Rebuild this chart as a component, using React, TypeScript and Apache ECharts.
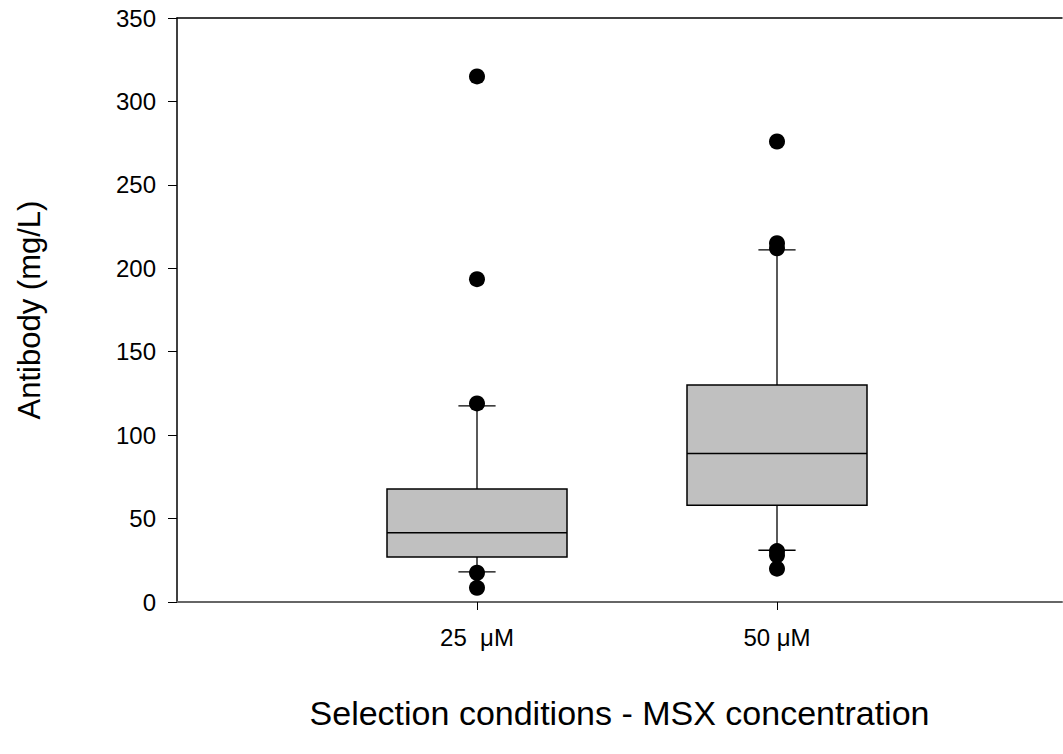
import React, { useEffect, useRef } from "react";
import * as echarts from "echarts";

const categories = ["25  μM", "50 μM"];
const categoryPos = [1, 2];
const whiskerLow = [18, 31];
const q1 = [27, 58];
const median = [41.5, 89];
const q3 = [67.7, 130];
const whiskerHigh = [117.5, 211];
const outliers25 = [315, 193.5, 119, 17.5, 8.5];
const outliers50 = [276, 215, 212, 30.5, 28, 20];
const yTicks = [0, 50, 100, 150, 200, 250, 300, 350];

export default function App() {
  const ref = useRef<HTMLDivElement>(null);
  useEffect(() => {
    if (!ref.current) return;
    const chart = echarts.init(ref.current, null, { renderer: "svg" });
    const boxData = categoryPos.map((x, i) => [x, whiskerLow[i], q1[i], median[i], q3[i], whiskerHigh[i]]);
    const outlierData = [
      ...outliers25.map((v) => [categoryPos[0], v]),
      ...outliers50.map((v) => [categoryPos[1], v]),
    ];
    const font = "Liberation Sans, Arial, sans-serif";
    chart.setOption({
      animation: false,
      grid: { left: 177, top: 18, right: 1, bottom: 152, containLabel: false },
      xAxis: [
        {
          type: "value",
          min: 0,
          max: 2.95,
          interval: 1,
          position: "bottom",
          name: "Selection conditions - MSX concentration",
          nameLocation: "middle",
          nameGap: 94,
          nameTextStyle: { fontSize: 34, color: "#000", fontFamily: font },
          axisLine: { lineStyle: { color: "#666", width: 2 } },
          axisTick: { show: true, length: 8, lineStyle: { color: "#000" }, customValues: categoryPos },
          axisLabel: {
            customValues: categoryPos,
            formatter: (v: number) => {
              const i = categoryPos.indexOf(Math.round(v));
              return i >= 0 ? categories[i] : "";
            },
            fontSize: 24,
            color: "#000",
            fontFamily: font,
            margin: 23,
          },
          splitLine: { show: false },
        },
        {
          type: "value",
          min: 0,
          max: 2.95,
          position: "top",
          axisLine: { show: true, lineStyle: { color: "#000", width: 1.5 } },
          axisTick: { show: false },
          axisLabel: { show: false },
          splitLine: { show: false },
        },
      ],
      yAxis: {
        type: "value",
        min: 0,
        max: 350,
        interval: 50,
        name: "Antibody (mg/L)",
        nameLocation: "middle",
        nameGap: 132,
        nameRotate: 90,
        nameTextStyle: { fontSize: 31, color: "#000", fontFamily: font },
        axisLine: { show: true, lineStyle: { color: "#000", width: 1.5 } },
        axisTick: { show: true, length: 9, lineStyle: { color: "#000" } },
        axisLabel: {
          fontSize: 24,
          color: "#000",
          fontFamily: font,
          margin: 21,
          formatter: (v: number) => (yTicks.includes(v) ? String(v) : ""),
        },
        splitLine: { show: false },
      },
      series: [
        {
          type: "custom",
          xAxisIndex: 0,
          data: boxData,
          encode: { x: 0, y: [1, 2, 3, 4, 5] },
          renderItem: (params: any, api: any) => {
            const x = api.value(0);
            const lo = api.coord([x, api.value(1)]);
            const b1 = api.coord([x, api.value(2)]);
            const md = api.coord([x, api.value(3)]);
            const b3 = api.coord([x, api.value(4)]);
            const hi = api.coord([x, api.value(5)]);
            const unit = api.size([1, 0])[0];
            const halfBox = unit * 0.3;
            const halfCap = unit * 0.062;
            const cx = lo[0];
            const ls = { stroke: "#000", lineWidth: 1.3 };
            return {
              type: "group",
              children: [
                { type: "line", shape: { x1: cx, y1: b3[1], x2: cx, y2: hi[1] }, style: ls },
                { type: "line", shape: { x1: cx, y1: b1[1], x2: cx, y2: lo[1] }, style: ls },
                { type: "line", shape: { x1: cx - halfCap, y1: hi[1], x2: cx + halfCap, y2: hi[1] }, style: ls },
                { type: "line", shape: { x1: cx - halfCap, y1: lo[1], x2: cx + halfCap, y2: lo[1] }, style: ls },
                {
                  type: "rect",
                  shape: { x: cx - halfBox, y: b3[1], width: halfBox * 2, height: b1[1] - b3[1] },
                  style: { fill: "#c0c0c0", stroke: "#000", lineWidth: 1.5 },
                },
                { type: "line", shape: { x1: cx - halfBox, y1: md[1], x2: cx + halfBox, y2: md[1] }, style: ls },
              ],
            };
          },
          z: 2,
        },
        {
          type: "scatter",
          xAxisIndex: 0,
          data: outlierData,
          symbol: "circle",
          symbolSize: 16,
          itemStyle: { color: "#000", opacity: 1 },
          z: 3,
        },
      ],
    });
    return () => chart.dispose();
  }, []);
  return <div ref={ref} style={{ position: "fixed", left: 0, top: 0, width: 1063, height: 754, background: "#fff" }} />;
}
